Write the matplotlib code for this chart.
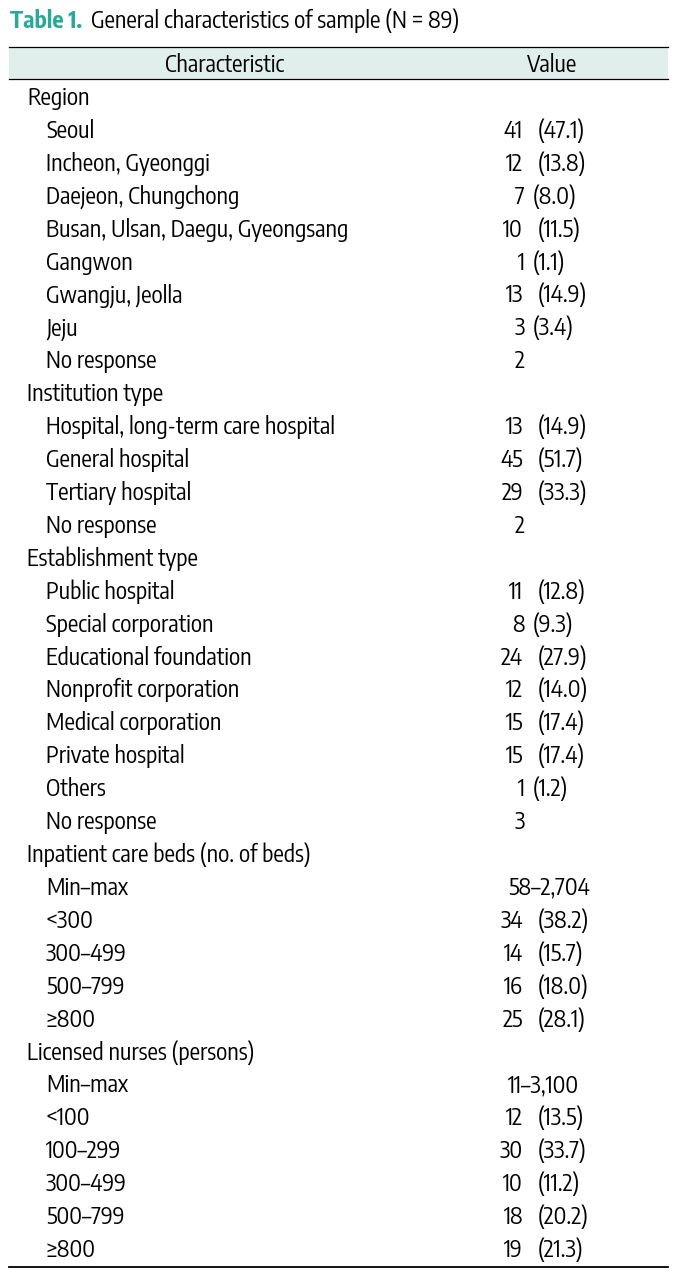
import matplotlib.pyplot as plt
from matplotlib.patches import Rectangle
from matplotlib.font_manager import FontProperties
from matplotlib.textpath import TextPath

plt.rcParams['font.family'] = ['Encode Sans Condensed', 'DejaVu Sans']

title_label = 'Table 1.'
title_text = 'General characteristics of sample (N\u2009=\u200989)'
col_headers = ['Characteristic', 'Value']

# (label, value, is_group_heading)
rows = [
    ('Region', '', True),
    ('Seoul', '41 (47.1)', False),
    ('Incheon, Gyeonggi', '12 (13.8)', False),
    ('Daejeon, Chungchong', '7 (8.0)', False),
    ('Busan, Ulsan, Daegu, Gyeongsang', '10 (11.5)', False),
    ('Gangwon', '1 (1.1)', False),
    ('Gwangju, Jeolla', '13 (14.9)', False),
    ('Jeju', '3 (3.4)', False),
    ('No response', '2', False),
    ('Institution type', '', True),
    ('Hospital, long-term care hospital', '13 (14.9)', False),
    ('General hospital', '45 (51.7)', False),
    ('Tertiary hospital', '29 (33.3)', False),
    ('No response', '2', False),
    ('Establishment type', '', True),
    ('Public hospital', '11 (12.8)', False),
    ('Special corporation', '8 (9.3)', False),
    ('Educational foundation', '24 (27.9)', False),
    ('Nonprofit corporation', '12 (14.0)', False),
    ('Medical corporation', '15 (17.4)', False),
    ('Private hospital', '15 (17.4)', False),
    ('Others', '1 (1.2)', False),
    ('No response', '3', False),
    ('Inpatient care beds (no. of beds)', '', True),
    ('Min\u2013max', '58\u20132,704', False),
    ('<300', '34 (38.2)', False),
    ('300\u2013499', '14 (15.7)', False),
    ('500\u2013799', '16 (18.0)', False),
    ('\u2265800', '25 (28.1)', False),
    ('Licensed nurses (persons)', '', True),
    ('Min\u2013max', '11\u20133,100', False),
    ('<100', '12 (13.5)', False),
    ('100\u2013299', '30 (33.7)', False),
    ('300\u2013499', '10 (11.2)', False),
    ('500\u2013799', '18 (20.2)', False),
    ('\u2265800', '19 (21.3)', False),
]

W, H = 691, 1271
fig = plt.figure(figsize=(W / 100, H / 100), dpi=100)
ax = fig.add_axes([0, 0, 1, 1])
ax.set_xlim(0, W)
ax.set_ylim(H, 0)
ax.axis('off')

# size the font so capitals are about 17 px tall, like the reference
cap = TextPath((0, 0), 'H', size=1, prop=FontProperties(family='Encode Sans Condensed')).get_extents().height
fs = 17.3 / cap * 0.72
teal = '#2aa998'

# title
t = ax.text(10, 28, title_label, fontsize=fs, fontweight='bold', color=teal,
            va='baseline', ha='left')
fig.canvas.draw()
bb = t.get_window_extent().transformed(ax.transData.inverted())
ax.text(bb.x1 + 9, 28, title_text, fontsize=fs, color='black', va='baseline', ha='left')

# header band and rules
left, right = 9, 668
ax.add_patch(Rectangle((left, 47), right - left, 32, facecolor='#e0efeb', edgecolor='none'))
ax.plot([left, right], [47, 47], color='black', lw=0.9)
ax.plot([left, right], [79, 79], color='black', lw=0.9)
ax.plot([left, right], [1267, 1267], color='black', lw=1.3)
ax.text(225, 72, col_headers[0], fontsize=fs, ha='center', va='baseline')
ax.text(552, 72, col_headers[1], fontsize=fs, ha='center', va='baseline')

y0, dy = 105, (1257 - 105) / (len(rows) - 1)
for i, (label, value, heading) in enumerate(rows):
    y = y0 + i * dy
    ax.text(27 if heading else 46, y, label, fontsize=fs, ha='left', va='baseline')
    if not value:
        continue
    if '(' in value:
        n, pct = value.split(' ', 1)
        nx, px = (523, 538) if len(n) > 1 else (525, 533)
        ax.text(nx, y, n, fontsize=fs, ha='right', va='baseline')
        ax.text(px, y, pct, fontsize=fs, ha='left', va='baseline')
    elif '\u2013' in value:
        ax.text(508, y, value, fontsize=fs, ha='left', va='baseline')
    else:
        ax.text(525, y, value, fontsize=fs, ha='right', va='baseline')

fig.savefig('out.png', dpi=100)
